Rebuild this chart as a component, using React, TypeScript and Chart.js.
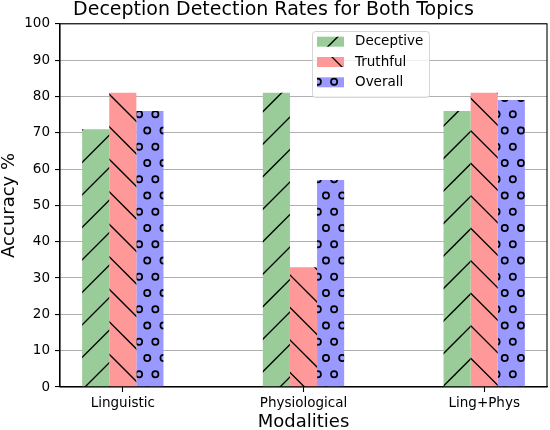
import React, { useEffect, useRef } from 'react';
import { Chart, registerables } from 'chart.js';

Chart.register(...registerables);

const chartTitle = 'Deception Detection Rates for Both Topics';
const xAxisTitle = 'Modalities';
const yAxisTitle = 'Accuracy %';
const categories = ['Linguistic', 'Physiological', 'Ling+Phys'];
const seriesNames = ['Deceptive', 'Truthful', 'Overall'];
const deceptive = [71, 81, 76];
const truthful = [81, 33, 81];
const overall = [76, 57, 79];
const yMin = 0;
const yMax = 100;
const yStep = 10;

const seriesColors = ['#99cc99', '#ff9999', '#9999ff'];
const seriesHatches = ['/', '\\', 'o'];

const FONT = '"DejaVu Sans", "Liberation Sans", sans-serif';
const PERIOD = 32.5;
const TILE = 65;

function makePattern(base: string, hatch: string): CanvasPattern | string {
  const c = document.createElement('canvas');
  c.width = TILE;
  c.height = TILE;
  const ctx = c.getContext('2d');
  if (!ctx) return base;
  ctx.fillStyle = base;
  ctx.fillRect(0, 0, TILE, TILE);
  ctx.strokeStyle = '#000';
  ctx.lineWidth = 1.3;
  if (hatch === '/') {
    const c0 = 17;
    for (let k = -6; k <= 10; k++) {
      const C = c0 + k * PERIOD;
      ctx.beginPath();
      ctx.moveTo(-20, C + 20);
      ctx.lineTo(TILE + 20, C - TILE - 20);
      ctx.stroke();
    }
  } else if (hatch === '\\') {
    const c0 = 15;
    for (let k = -6; k <= 10; k++) {
      const C = c0 + k * PERIOD;
      ctx.beginPath();
      ctx.moveTo(-20, -20 - C);
      ctx.lineTo(TILE + 20, TILE + 20 - C);
      ctx.stroke();
    }
  } else if (hatch === 'o') {
    ctx.lineWidth = 1.7;
    const step = PERIOD / 2;
    for (let j = -2; j <= 6; j++) {
      const y = 0.5 + j * step;
      const xOff = (Math.abs(j) % 2 === 0) ? 1 : 9.1;
      for (let i = -2; i <= 6; i++) {
        const x = xOff + i * step;
        ctx.beginPath();
        ctx.arc(x, y, 3.1, 0, Math.PI * 2);
        ctx.stroke();
      }
    }
  }
  const p = ctx.createPattern(c, 'repeat');
  return p || base;
}

const framePlugin = {
  id: 'frameBox',
  afterDraw(chart: any) {
    const { ctx, chartArea } = chart;
    ctx.save();
    ctx.strokeStyle = '#000';
    ctx.lineWidth = 1.1;
    ctx.strokeRect(chartArea.left, chartArea.top, chartArea.right - chartArea.left, chartArea.bottom - chartArea.top);
    ctx.restore();
  },
};

const legendPlugin = {
  id: 'mplLegend',
  afterDraw(chart: any) {
    const { ctx } = chart;
    ctx.save();
    const bx = 312, by = 31, bw = 117, bh = 66;
    ctx.beginPath();
    if (ctx.roundRect) ctx.roundRect(bx + 0.5, by + 0.5, bw, bh, 3);
    else ctx.rect(bx + 0.5, by + 0.5, bw, bh);
    ctx.fillStyle = 'rgba(255,255,255,0.8)';
    ctx.fill();
    ctx.strokeStyle = 'rgba(204,204,204,0.8)';
    ctx.lineWidth = 1;
    ctx.stroke();
    chart.data.datasets.forEach((ds: any, i: number) => {
      const cy = 41.7 + i * 20.3;
      ctx.fillStyle = ds.backgroundColor;
      ctx.fillRect(317, cy - 5, 27, 10);
      ctx.fillStyle = '#000';
      ctx.font = '13.5px ' + FONT;
      ctx.textBaseline = 'middle';
      ctx.textAlign = 'left';
      ctx.fillText(ds.label, 355, cy);
    });
    ctx.restore();
  },
};

export default function App() {
  const canvasRef = useRef<HTMLCanvasElement | null>(null);

  useEffect(() => {
    document.body.style.margin = '0';
    const canvas = canvasRef.current;
    if (!canvas) return;
    const seriesValues = [deceptive, truthful, overall];
    const datasets = seriesNames.map((name, si) => ({
      label: name,
      data: seriesValues[si].map((v, ci) => ({ x: ci, y: v })),
      backgroundColor: makePattern(seriesColors[si], seriesHatches[si]),
      borderWidth: 0,
      categoryPercentage: 0.45,
      barPercentage: 1,
    }));

    const chart = new Chart(canvas, {
      type: 'bar',
      data: { datasets: datasets as any },
      plugins: [framePlugin, legendPlugin],
      options: {
        animation: false,
        responsive: false,
        maintainAspectRatio: false,
        layout: { padding: { top: 0, right: 3, bottom: 0, left: 0 } },
        plugins: {
          legend: { display: false },
          tooltip: { enabled: false },
          title: {
            display: true,
            text: chartTitle,
            color: '#000',
            font: { family: FONT, size: 19, weight: 'normal', lineHeight: 0.99 },
            padding: { top: 1, bottom: 4 },
          },
        },
        scales: {
          x: {
            type: 'linear',
            min: -0.3475,
            max: 2.3475,
            offset: false,
            afterBuildTicks: (scale: any) => {
              scale.ticks = categories.map((_, i) => ({ value: i }));
            },
            afterFit: (scale: any) => {
              scale.height = 43;
            },
            ticks: {
              color: '#000',
              font: { family: FONT, size: 13.5 },
              padding: 3.5,
              autoSkip: false,
              maxRotation: 0,
              callback: (value: any) => categories[Math.round(Number(value))] ?? '',
            },
            grid: {
              display: true,
              offset: false,
              drawOnChartArea: false,
              drawTicks: true,
              tickLength: 5,
              tickColor: '#000',
              tickWidth: 1.1,
            },
            border: { display: true, color: '#000', width: 1.1 },
            title: {
              display: true,
              text: xAxisTitle,
              color: '#000',
              font: { family: FONT, size: 18, lineHeight: 0.8 },
              padding: { top: 0, bottom: 0 },
            },
          },
          y: {
            type: 'linear',
            min: yMin,
            max: yMax,
            z: 1,
            afterFit: (scale: any) => {
              scale.width = 60;
            },
            ticks: {
              stepSize: yStep,
              color: '#000',
              font: { family: FONT, size: 13.5 },
              padding: 5,
            },
            grid: {
              color: '#b0b0b0',
              lineWidth: 1.1,
              tickColor: '#000',
              tickLength: 5,
              tickWidth: 1.1,
            },
            border: { display: true, color: '#000', width: 1.1 },
            title: {
              display: true,
              text: yAxisTitle,
              color: '#000',
              font: { family: FONT, size: 18, lineHeight: 0.8 },
              padding: { top: 2, bottom: 0 },
            },
          },
        },
      } as any,
    });
    return () => chart.destroy();
  }, []);

  return (
    <div style={{ position: 'absolute', left: 0, top: 0, width: 550, height: 430 }}>
      <canvas ref={canvasRef} width={550} height={430} />
    </div>
  );
}
